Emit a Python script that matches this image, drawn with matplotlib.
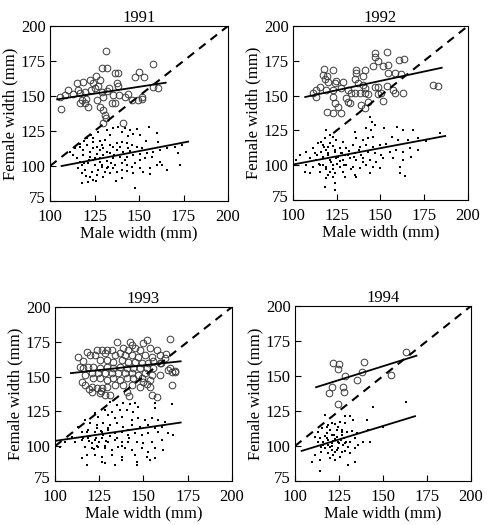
import matplotlib
matplotlib.use("Agg")
import matplotlib.pyplot as plt
import matplotlib.transforms as mtransforms
import numpy as np

plt.rcParams['font.family'] = ['Liberation Serif', 'DejaVu Serif']

years = ["1991", "1992", "1993", "1994"]

# ---------- 1991 ----------
c91_x = [106, 131.4, 129, 132, 157.6, 136.4, 138.3, 150, 147.7, 152.7, 126, 128, 118.7, 122.4, 124.3,
         115, 137.4, 138.3, 110, 105.6, 108.4, 113, 116, 117, 119.6, 123, 125, 129, 130, 133, 135.5,
         139, 142, 144, 146, 149.5, 151.4, 118, 119.6, 121.5, 126.5, 128, 130, 131, 131.4, 134.6,
         136.4, 132, 160.7, 158, 151.4, 130, 141, 120, 127, 117]
c91_y = [140.7, 182.4, 169.8, 169.8, 172.9, 166.7, 166.7, 167.4, 163.8, 163.8, 164.3, 161.4, 160.2,
         161.4, 159.5, 159, 159.5, 157, 154.3, 149.5, 150.7, 151.4, 154, 152, 153, 154, 155.5, 153,
         149.5, 155.5, 150.7, 150.7, 149.5, 151.4, 147, 147, 147.9, 147, 144.8, 142.4, 147, 142.4,
         140, 136.4, 134, 145, 144.8, 153.8, 155.5, 156.7, 149.5, 130.5, 130.5, 148, 157, 145]
d91_x = [135.6, 140.3, 144.9, 148.7, 155.8, 160.3, 144.0, 146.8, 150.6, 153.9, 160.9, 133.7, 130.9,
         128.1, 124.3, 120.6, 116.9, 114.1, 118.7, 122.5, 126.2, 130.0, 133.7, 137.5, 140.3, 143.1,
         145.9, 148.7, 151.5, 137.5, 141.2, 144.9, 133.7, 130.0, 126.2, 122.5, 118.7, 115.0, 124.3,
         128.1, 131.8, 135.6, 139.3, 143.1, 146.8, 150.6, 154.3, 158.1, 161.8, 165.5, 170.2, 174.0,
         150.6, 153.4, 157.1, 159.9, 161.8, 165.5, 173.0, 172.1, 156.2, 150.6, 145.9, 143.1, 140.3,
         136.5, 132.8, 129.0, 125.3, 121.5, 117.8, 115.9, 119.7, 123.4, 127.2, 130.9, 133.7, 137.5,
         140.3, 143.1, 146.8, 126.2, 122.5, 124.3, 121.5, 130.0, 140.3, 147.8, 131.8, 135.6, 116.9,
         113.1, 111.2, 124.3, 128.1, 131.8, 135.6, 139.3, 144.0, 129.0, 124.3,
         117, 119, 121, 123, 127, 132, 138, 142, 118, 120, 126, 129, 134, 128, 122, 119, 125, 136,
         142, 148, 152, 156, 163, 137, 118]
d91_y = [127.4, 124.5, 125.7, 126.4, 128.1, 123.3, 121.7, 122.6, 122.1, 117.9, 117.4, 122.1, 118.6,
         117.9, 116.9, 115.0, 113.8, 112.6, 111.4, 110.2, 113.8, 112.6, 115.0, 116.2, 117.4, 116.2,
         115.0, 113.8, 112.6, 111.4, 110.2, 110.7, 109.0, 107.9, 108.3, 106.7, 107.9, 105.5, 104.3,
         105.5, 103.6, 105.5, 106.7, 106.7, 107.9, 108.3, 109.0, 110.2, 111.4, 113.1, 113.8, 115.0,
         104.3, 105.5, 106.7, 100.7, 103.1, 97.1, 101.0, 109.5, 98.3, 98.3, 99.5, 100.7, 101.9,
         100.7, 99.5, 100.7, 100.7, 101.9, 100.7, 98.3, 97.1, 95.9, 97.1, 95.9, 94.8, 95.9,
         97.1, 96.4, 94.8, 93.6, 92.4, 90.0, 88.8, 92.4, 91.2, 84.0, 98.3, 98.3, 103.1,
         107.9, 110.2, 112.6, 111.4, 110.2, 113.8, 113.8, 112.6, 115.0, 119.8,
         116, 118, 120, 122, 124, 126, 128, 127, 95, 93, 89, 99, 102, 103, 104, 102, 106, 108,
         104, 102, 96, 94, 101, 89, 88]

# ---------- 1992 ----------
c92_x = [146.7, 146.7, 153.9, 148.6, 151.4, 154.3, 145.7, 160.6, 163.4, 122.9, 117.1, 119.4, 136.2,
         136.2, 141.0, 140.0, 154.3, 158.1, 161.9, 118.1, 120.0, 124.4, 128.6, 123.8, 135.2, 137.1,
         140.0, 141.0, 146.7, 148.6, 115.2, 113.0, 113.3, 119.0, 122.9, 127.6, 131.4, 133.3, 135.2,
         138.1, 141.0, 142.9, 148.6, 150.5, 158.1, 162.9, 153.9, 157.1, 122.9, 130.5, 123.8, 132.4,
         131.4, 142.9, 139.0, 141.0, 151.4, 119.6, 122.9, 127.6, 125.7, 180.0, 182.9, 111.4, 117.5]
c92_y = [180.4, 177.5, 181.1, 175.1, 171.3, 172.0, 171.3, 175.6, 176.0, 168.4, 164.8, 164.1, 168.4,
         166.0, 168.4, 164.1, 166.0, 166.0, 165.3, 161.7, 160.0, 160.7, 160.0, 158.8, 161.7, 158.8,
         157.6, 155.2, 156.4, 156.4, 156.4, 154.0, 149.2, 154.0, 154.0, 155.2, 154.0, 151.6, 152.1,
         151.6, 151.6, 151.1, 151.1, 151.6, 152.1, 151.6, 156.9, 154.0, 148.8, 148.0, 144.4, 144.4,
         145.6, 145.6, 143.2, 140.8, 146.1, 138.5, 137.3, 137.3, 142.0, 157.6, 156.9, 151.6, 168.8]
d92_x = [145.3, 143.8, 146.7, 141.9, 144.8, 145.7, 151.8, 159.4, 162.9, 168.6, 156.8, 160.0, 165.7,
         171.4, 176.2, 183.8, 119.0, 121.0, 118.1, 122.9, 124.8, 128.6, 135.2, 136.2, 140.0, 142.9,
         134.3, 138.1, 141.9, 145.7, 149.5, 153.3, 114.3, 117.1, 120.0, 122.9, 126.7, 130.5, 111.4,
         107.6, 103.8, 101.9, 112.4, 116.2, 120.0, 123.8, 127.6, 131.4, 135.2, 139.0, 142.9, 146.7,
         150.5, 155.2, 159.0, 162.9, 166.7, 171.4, 109.5, 113.3, 117.1, 121.0, 124.8, 128.6, 132.4,
         136.2, 140.0, 143.8, 147.6, 151.4, 157.1, 162.9, 167.6, 107.6, 111.4, 115.2, 119.0, 122.9,
         126.7, 130.5, 134.3, 138.1, 141.9, 145.7, 161.0, 149.5, 106.7, 109.5, 115.2, 120.0, 123.8,
         128.6, 135.2, 143.8, 161.0, 119.0, 122.9, 123.8, 136.2, 129.5, 163.8, 118.1, 123.8,
         116, 118, 119, 121, 117, 120, 122, 124, 126, 125, 130, 128, 117, 119, 121, 123, 114, 115,
         127, 129, 132, 135, 138, 140, 133]
d92_y = [131.3, 134.9, 128.9, 126.5, 125.3, 120.5, 127.0, 127.7, 125.3, 125.3, 120.5, 118.1, 118.1,
         119.3, 117.4, 122.9, 125.3, 121.7, 119.3, 120.5, 118.1, 116.9, 124.1, 119.3, 118.1, 119.3,
         114.5, 113.3, 114.5, 113.3, 114.5, 115.0, 115.7, 114.5, 113.3, 114.0, 112.6, 112.1, 112.1,
         109.7, 107.3, 103.7, 108.5, 109.7, 108.5, 109.7, 108.5, 107.3, 108.5, 107.3, 109.7, 108.5,
         107.3, 109.7, 110.9, 109.7, 112.1, 110.9, 104.9, 103.7, 104.9, 103.7, 105.4, 103.7, 104.9,
         103.7, 104.9, 103.7, 102.5, 104.9, 104.9, 103.7, 106.1, 100.1, 98.9, 100.1, 98.9, 100.1,
         98.9, 100.1, 98.9, 97.8, 100.1, 98.9, 98.9, 97.8, 95.4, 94.2, 95.4, 93.0, 94.2,
         95.4, 93.0, 94.2, 94.2, 90.6, 91.8, 87.0, 91.8, 91.8, 92.5, 84.6, 82.2,
         117, 113, 111, 116, 106, 107, 102, 111, 106, 101, 107, 109, 100, 97, 95, 97, 107, 101,
         103, 100, 110, 106, 111, 102, 97]

# ---------- 1993 ----------
c93_x = [134.8, 142.4, 143.3, 149.9, 151.8, 165.0, 123.5, 126.4, 129.2, 132.0, 138.6, 141.4, 145.2,
         148.0, 153.7, 157.4, 119.8, 122.6, 128.2, 133.9, 136.7, 139.5, 143.3, 147.1, 150.8, 154.6,
         159.3, 162.1, 125.4, 129.2, 133.0, 137.7, 141.4, 145.2, 149.0, 152.7, 155.5, 159.3, 118.8,
         121.7, 125.4, 129.2, 133.0, 136.7, 140.5, 144.3, 148.0, 151.8, 155.5, 120.7, 124.5, 128.2,
         132.0, 135.8, 139.5, 143.3, 147.1, 150.8, 154.6, 165.0, 167.8, 159.3, 121.7, 125.4, 129.2,
         133.0, 136.7, 140.5, 144.3, 149.0, 153.7, 120.7, 123.5, 126.4, 129.2, 133.9, 138.6, 143.3,
         148.0, 153.7, 125.4, 128.2, 140.5, 157.4, 165.9, 116.0, 117.0, 115.1,
         113, 114, 116, 118, 117, 119, 121, 126, 131, 142, 150, 152, 155, 160, 163, 166, 164, 168]
c93_y = [174.6, 175.1, 172.7, 173.9, 176.3, 177.0, 169.1, 169.1, 169.1, 169.1, 170.3, 169.1, 170.3,
         169.1, 170.3, 169.1, 165.5, 165.5, 166.7, 165.5, 166.7, 165.5, 165.5, 164.3, 165.5, 164.3,
         165.5, 163.1, 161.9, 161.9, 160.7, 161.9, 160.7, 160.7, 159.5, 159.5, 161.2, 159.5, 157.1,
         157.1, 155.9, 157.1, 155.9, 157.1, 155.9, 155.9, 155.9, 155.9, 155.9, 152.4, 152.4, 152.4,
         152.4, 152.4, 152.4, 152.4, 151.2, 152.4, 151.2, 155.9, 154.0, 151.2, 148.8, 148.8, 147.6,
         148.8, 147.6, 148.8, 148.8, 148.8, 147.6, 142.8, 141.6, 141.6, 142.8, 144.0, 144.0, 144.0,
         142.8, 142.8, 138.0, 136.8, 139.2, 135.6, 144.0, 155.9, 151.2, 146.4,
         164, 157, 161, 168, 144, 141, 139, 140, 137, 136, 146, 145, 137, 160, 166, 153, 155, 153]
d93_x = [131.1, 134.8, 138.6, 142.4, 145.2, 147.1, 156.5, 156.5, 128.2, 132.0, 136.7, 140.5, 144.3,
         122.6, 124.5, 130.1, 133.9, 137.7, 143.3, 147.1, 150.8, 154.6, 158.4, 162.1, 116.9, 119.8,
         123.5, 127.3, 131.1, 134.8, 138.6, 143.3, 148.0, 152.7, 156.5, 160.3, 113.2, 115.1, 118.8,
         122.6, 126.4, 130.1, 133.9, 137.7, 141.4, 145.2, 149.0, 152.7, 158.4, 164.0, 109.4, 105.6,
         102.8, 111.3, 115.1, 118.8, 122.6, 126.4, 130.1, 133.9, 137.7, 141.4, 146.1, 149.9, 154.6,
         160.3, 116.9, 120.7, 124.5, 128.2, 132.0, 135.8, 139.5, 143.3, 149.0, 152.7, 156.5, 161.2,
         117.9, 122.6, 126.4, 132.0, 137.7, 145.2, 151.8, 156.5, 126.4, 128.2, 133.9, 137.7, 146.1,
         146.1, 153.7, 117.9, 115.1, 166.9,
         119, 121, 123, 125, 127, 124, 122, 120, 126, 129, 131, 128, 118, 116, 124, 130, 135, 138,
         142, 141, 166]
d93_y = [132.0, 129.6, 130.8, 130.1, 130.8, 128.4, 130.8, 127.2, 126.0, 124.8, 126.0, 126.0, 124.8,
         123.6, 121.2, 122.4, 120.0, 121.2, 118.8, 120.0, 118.8, 120.0, 118.8, 117.6, 118.8, 116.4,
         115.2, 116.4, 115.2, 116.4, 114.0, 115.2, 114.0, 115.2, 112.8, 114.0, 114.0, 110.4, 111.6,
         110.4, 110.4, 111.6, 109.3, 110.4, 108.1, 109.3, 108.1, 109.3, 110.4, 109.3, 106.9, 103.3,
         99.7, 103.3, 104.5, 105.6, 104.5, 105.6, 103.3, 104.5, 103.3, 103.3, 103.3, 102.1, 103.3,
         104.5, 99.7, 98.5, 99.7, 98.5, 97.3, 99.7, 98.5, 97.3, 98.5, 96.1, 98.5, 97.3,
         93.7, 93.7, 92.5, 93.7, 92.5, 93.7, 92.5, 91.3, 88.9, 87.7, 86.5, 90.1, 86.5,
         88.9, 90.1, 86.5, 91.3, 108.0,
         104, 102, 106, 103, 108, 100, 98, 107, 111, 104, 107, 100, 110, 106, 113, 113, 106, 100,
         106, 112, 130.5]

# ---------- 1994 ----------
c94_x = [121.4, 125.2, 124.6, 139.2, 128.4, 135.0, 121.2, 127.1, 119.5, 128.0, 137.9, 154.5, 162.9, 124.6]
c94_y = [159.1, 158.6, 154.8, 159.8, 150.2, 147.1, 142.4, 142.4, 138.1, 138.8, 152.6, 150.7, 166.9, 129.8]
d94_x = [117.0, 118.9, 118.0, 120.8, 122.7, 125.6, 128.4, 131.3, 133.1, 128.4, 123.7, 119.9, 115.2,
         113.3, 111.4, 114.2, 116.1, 118.0, 120.8, 123.7, 126.5, 129.4, 132.2, 135.0, 140.7, 141.7,
         150.2, 138.8, 142.6, 134.1, 131.3, 128.4, 124.6, 121.8, 118.9, 117.0, 120.8, 124.6, 128.4,
         131.3, 134.1, 136.0, 130.3, 126.5, 122.7, 118.9, 114.8, 111.4, 109.5, 114.2, 119.9, 122.7,
         130.3, 134.1, 114.2, 121.8, 125.6, 127.5, 118.0, 124.6, 126.5, 120.8, 144.5, 162.9,
         116, 119, 121, 123, 125, 117, 122, 126, 128, 120, 124, 113, 115, 127, 129]
d94_y = [122.1, 115.0, 113.8, 116.2, 115.5, 116.9, 121.7, 121.7, 118.6, 116.2, 111.4, 111.4, 112.6,
         109.8, 106.7, 105.5, 103.1, 106.0, 107.9, 106.7, 107.9, 109.8, 110.7, 109.1, 118.6, 111.4,
         113.8, 103.1, 103.1, 105.5, 103.1, 101.9, 103.1, 103.6, 100.7, 98.3, 97.1, 98.3, 96.4,
         94.8, 98.3, 100.7, 99.5, 96.0, 95.5, 94.8, 96.0, 93.6, 88.8, 90.0, 91.2, 90.0,
         86.4, 88.8, 82.1, 93.6, 92.4, 100.7, 109.0, 113.8, 111.4, 101.9, 128.1, 131.2,
         101, 104, 100, 105, 102, 107, 108, 104, 106, 99, 97, 103, 99, 110, 103]

circ_x = [c91_x, c92_x, c93_x, c94_x]
circ_y = [c91_y, c92_y, c93_y, c94_y]
dot_x = [d91_x, d92_x, d93_x, d94_x]
dot_y = [d91_y, d92_y, d93_y, d94_y]

# fitted regression lines (x-range and end values)
fc_x0 = [104, 107, 109, 112]
fc_x1 = [165, 185, 171, 169]
fc_y0 = [147.6, 149, 152.5, 142]
fc_y1 = [159.5, 170, 161, 164.5]
fd_x0 = [106.5, 100, 101, 103.8]
fd_x1 = [177.6, 187, 171, 168.2]
fd_y0 = [100, 100.5, 104, 96.5]
fd_y1 = [117.4, 121, 117, 121.3]
# 1:1 line start
one_start = [100, 123, 100, 100]

xticks = [100, 125, 150, 175, 200]
yticks = [75, 100, 125, 150, 175, 200]

fig = plt.figure(figsize=(4.87, 5.25), dpi=100)
positions = [
    [0.1027, 0.6171, 0.3655, 0.3334],
    [0.6016, 0.6190, 0.3593, 0.3315],
    [0.1129, 0.0838, 0.3634, 0.3314],
    [0.6057, 0.0838, 0.3614, 0.3333],
]

for i in range(4):
    ax = fig.add_axes(positions[i])
    ax.plot(dot_x[i], dot_y[i], 's', ms=2.1, color='black', mec='black', mew=0)
    ax.plot(circ_x[i], circ_y[i], 'o', ms=4.8, mfc='none', mec='#3a3a3a', mew=0.7)
    ax.plot([fc_x0[i], fc_x1[i]], [fc_y0[i], fc_y1[i]], '-', color='black', lw=1.3)
    ax.plot([fd_x0[i], fd_x1[i]], [fd_y0[i], fd_y1[i]], '-', color='black', lw=1.3)
    ax.plot([one_start[i], 200], [one_start[i], 200], '--', color='black', lw=1.5, dashes=(4, 3))
    ax.set_xlim(100, 200)
    ax.set_ylim(75, 200)
    ax.set_xticks(xticks)
    ax.set_yticks(yticks)
    ax.tick_params(direction='in', length=4, width=0.8, labelsize=12)
    ax.tick_params(axis='x', pad=6)
    ax.tick_params(axis='y', pad=3)
    for s in ax.spines.values():
        s.set_linewidth(0.8)
    ax.set_title(years[i], fontsize=12, pad=2)
    ax.set_xlabel('Male width (mm)', fontsize=12, labelpad=0)
    ax.set_ylabel('Female width (mm)', fontsize=12, labelpad=2)
    # lift the lowest y tick label slightly, as in the original
    lbl = ax.get_yticklabels()[0]
    lbl.set_transform(lbl.get_transform() +
                      mtransforms.ScaledTranslation(0, 3 / 72, fig.dpi_scale_trans))

fig.savefig('out.png', dpi=100)
